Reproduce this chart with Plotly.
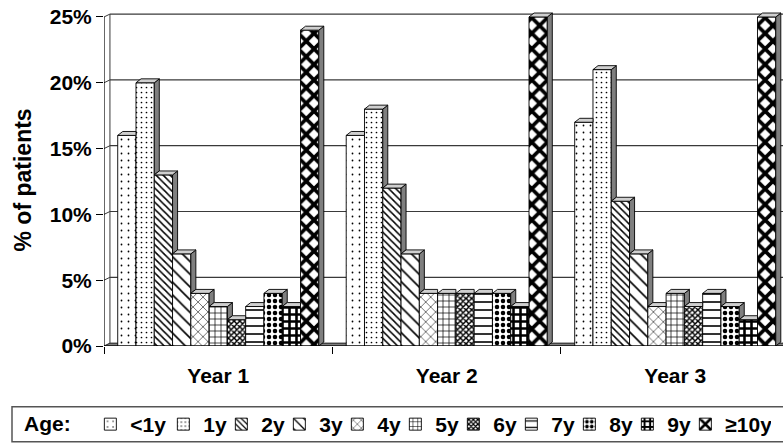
import plotly.graph_objects as go

# ---- data -------------------------------------------------------------
years = ["Year 1", "Year 2", "Year 3"]
age_groups = ["<1y", "1y", "2y", "3y", "4y", "5y", "6y", "7y", "8y", "9y", "≥10y"]

pct_lt1 = [16, 16, 17]
pct_1y = [20, 18, 21]
pct_2y = [13, 12, 11]
pct_3y = [7, 7, 7]
pct_4y = [4, 4, 3]
pct_5y = [3, 4, 4]
pct_6y = [2, 4, 3]
pct_7y = [3, 4, 4]
pct_8y = [4, 4, 3]
pct_9y = [3, 3, 2]
pct_10y = [24, 25, 25]

series = [pct_lt1, pct_1y, pct_2y, pct_3y, pct_4y, pct_5y,
          pct_6y, pct_7y, pct_8y, pct_9y, pct_10y]

y_ticks = [0, 5, 10, 15, 20, 25]

# ---- styling ----------------------------------------------------------
FONT = "Liberation Sans, Arial, sans-serif"
patterns = [
    dict(shape=".", size=7, solidity=0.05),
    dict(shape=".", size=5, solidity=0.09),
    dict(shape="\\", size=5, solidity=0.3),
    dict(shape="\\", size=9, solidity=0.18),
    dict(shape="x", size=7, solidity=0.15),
    dict(shape="+", size=6, solidity=0.22),
    dict(shape="x", size=4, solidity=0.6),
    dict(shape="-", size=8, solidity=0.2),
    dict(shape=".", size=6, solidity=0.45),
    dict(shape="+", size=7, solidity=0.6),
    dict(shape="x", size=11, solidity=0.55),
]
legend_entry_w = [28, 13, 13, 13, 13, 13, 13, 13, 13, 13, 40]

n = len(series)
bargap = 0.12
bw = (1 - bargap) / n          # width of one bar in axis units
ddx = 0.022                    # 3-D depth offset (x, axis units)
ddy = 0.30                     # 3-D depth offset (y, axis units)
wall_dx = 0.026
wall_dy = 0.22
x_lo = -0.5
x_hi = 2.4716
y_hi = 25.53

fig = go.Figure()

# front faces of the columns
for i, (name, vals) in enumerate(zip(age_groups, series)):
    p = patterns[i]
    fig.add_bar(
        x=list(range(len(years))), y=vals, name=name,
        legendwidth=legend_entry_w[i],
        marker=dict(color="white", line=dict(color="black", width=0.9),
                    pattern=dict(shape=p["shape"], size=p["size"],
                                 solidity=p["solidity"], fgcolor="black",
                                 bgcolor="white", fillmode="replace")),
    )

# side and top faces, computed from the column heights
side_x, side_y, top_x, top_y = [], [], [], []
for g in range(len(years)):
    for i in range(n):
        h = series[i][g]
        h_next = series[i + 1][g] if i + 1 < n else 0
        xl = g - (1 - bargap) / 2 + i * bw
        xr = xl + bw
        if h > h_next:
            side_x += [xr, xr + ddx, xr + ddx, xr, xr, None]
            side_y += [h_next, h_next + ddy, h + ddy, h, h_next, None]
            top_x += [xl, xl + ddx, xr + ddx, xr, xl, None]
            top_y += [h, h + ddy, h + ddy, h, h, None]
        else:
            top_x += [xl, xl + ddx, xr, xr, xl, None]
            top_y += [h, h + ddy, h + ddy, h, h, None]

fig.add_scatter(x=side_x, y=side_y, mode="lines", fill="toself",
                fillcolor="#7f7f7f", line=dict(color="black", width=0.9),
                showlegend=False, hoverinfo="skip")
fig.add_scatter(x=top_x, y=top_y, mode="lines", fill="toself",
                fillcolor="#cfcfcf", line=dict(color="black", width=0.9),
                showlegend=False, hoverinfo="skip")

# walls, floor and gridlines of the 3-D box
shapes = []
shapes.append(dict(type="path", xref="x", yref="y", layer="below",
                   path=f"M {x_lo},0 L {x_lo + wall_dx},{wall_dy} L {x_hi + 1},{wall_dy} L {x_hi + 1},0 Z",
                   fillcolor="#808080", line=dict(color="black", width=0.8)))
for v in y_ticks[1:]:
    shapes.append(dict(type="line", xref="x", yref="y", layer="below",
                       x0=x_lo + wall_dx, x1=x_hi + 1, y0=v + wall_dy, y1=v + wall_dy,
                       line=dict(color="#3a3a3a", width=1.2)))
    shapes.append(dict(type="line", xref="x", yref="y", layer="below",
                       x0=x_lo, x1=x_lo + wall_dx, y0=v, y1=v + wall_dy,
                       line=dict(color="#3a3a3a", width=1)))
shapes.append(dict(type="line", xref="x", yref="y", layer="above",
                   x0=x_lo, x1=x_lo, y0=0, y1=y_ticks[-1],
                   line=dict(color="black", width=1.2)))
shapes.append(dict(type="line", xref="x", yref="y", layer="below",
                   x0=x_lo + wall_dx, x1=x_lo + wall_dx, y0=wall_dy, y1=y_ticks[-1] + wall_dy,
                   line=dict(color="#3a3a3a", width=1)))
shapes.append(dict(type="line", xref="x", yref="y", layer="above",
                   x0=x_lo, x1=x_hi + 1, y0=0, y1=0,
                   line=dict(color="black", width=1.2)))
# legend frame
shapes.append(dict(type="rect", xref="paper", yref="paper",
                   x0=(12 - 104) / 679, x1=(795 - 104) / 679,
                   y0=(347 - 443) / 337, y1=(347 - 408) / 337,
                   line=dict(color="#555555", width=1.5), fillcolor="rgba(0,0,0,0)"))

fig.update_layout(
    width=783, height=445,
    margin=dict(l=104, r=0, t=10, b=98),
    paper_bgcolor="white", plot_bgcolor="white",
    barmode="group", bargap=bargap, bargroupgap=0,
    font=dict(family=FONT, size=20, color="black"),
    shapes=shapes,
    showlegend=True,
    legend=dict(orientation="h", x=(22 - 104) / 679, xanchor="left",
                y=(347 - 426) / 337, yanchor="middle",
                font=dict(family=FONT, size=21, color="black", weight="bold"),
                title=dict(text="Age:\u00a0\u00a0", side="left",
                           font=dict(family=FONT, size=21, weight="bold")),
                bgcolor="rgba(0,0,0,0)", borderwidth=0,
                itemwidth=30, tracegroupgap=0),
    annotations=[dict(text="% of patients", textangle=-90, showarrow=False,
                      xref="paper", yref="paper",
                      x=(23 - 104) / 679, y=(347 - 181) / 337,
                      xanchor="center", yanchor="middle",
                      font=dict(family=FONT, size=23, weight="bold"))],
)

fig.update_xaxes(range=[x_lo, x_hi], tickvals=list(range(len(years))),
                 ticktext=years, ticks="", showgrid=False, zeroline=False,
                 showline=False, ticklabelstandoff=15,
                 tickfont=dict(family=FONT, size=21, weight="bold"),
                 minor=dict(tickvals=[g - 0.5 for g in range(len(years) + 1)],
                            ticks="outside", ticklen=7, tickcolor="black",
                            showgrid=False))
fig.update_yaxes(range=[0, y_hi], tickvals=y_ticks,
                 ticktext=[f"{v}%" for v in y_ticks],
                 ticks="outside", ticklen=7, tickcolor="black",
                 showgrid=False, zeroline=False, showline=False,
                 tickfont=dict(family=FONT, size=21, weight="bold"))

fig.write_html("out.html")
